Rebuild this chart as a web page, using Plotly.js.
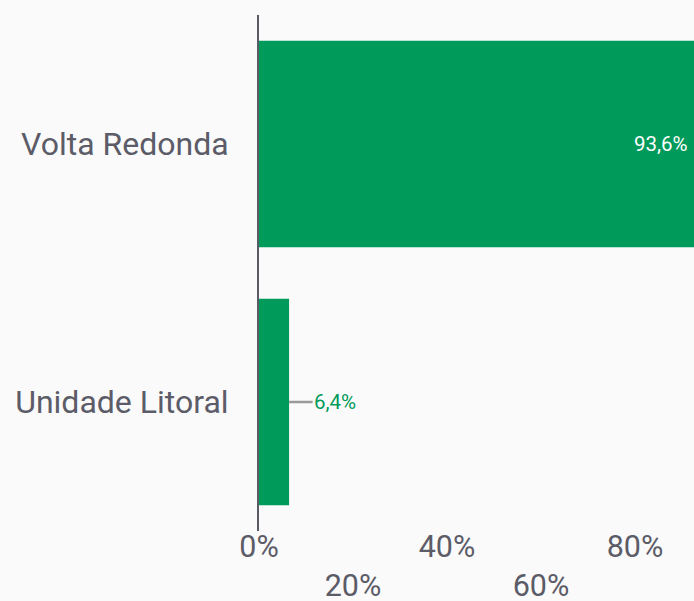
<!DOCTYPE html>
<html>
<head>
<meta charset="utf-8">
<script src="https://cdn.plot.ly/plotly-3.0.1.min.js"></script>
<style>
html,body{margin:0;padding:0;background:#fafafa;}
#chart{width:694px;height:601px;}
</style>
</head>
<body>
<div id="chart"></div>
<script>
const categories = ["Volta Redonda", "Unidade Litoral"];
const values = [93.6, 6.4];
const tickValues = [0, 20, 40, 60, 80];
const tickLabels = ["0%", "<br>20%", "40%", "<br>60%", "80%"];

const barColor = "#009a5b";
const textColor = "#5c5c68";

function fmt(v){ return v.toFixed(1).replace(".", ",") + "%"; }

const trace = {
  type: "bar",
  orientation: "h",
  x: values,
  y: categories,
  marker: {color: barColor},
  hoverinfo: "none"
};

const annotations = [];
values.forEach((v, i) => {
  if (v > 50) {
    annotations.push({
      xref: "paper", x: 1, xanchor: "right", xshift: -4,
      yref: "y", y: categories[i], yanchor: "middle",
      text: fmt(v), showarrow: false,
      font: {family: "Roboto", size: 20.5, color: "#ffffff"}
    });
  } else {
    annotations.push({
      xref: "x", x: v, yref: "y", y: categories[i],
      text: fmt(v), showarrow: true, arrowhead: 0, arrowwidth: 2.5,
      arrowcolor: "#999999", ax: 46, ay: 0, standoff: 0,
      font: {family: "Roboto", size: 20.5, color: barColor}
    });
  }
});

const layout = {
  width: 694, height: 601,
  margin: {l: 259, r: 0, t: 15, b: 70},
  paper_bgcolor: "#fafafa",
  plot_bgcolor: "#fafafa",
  bargap: 0.2,
  showlegend: false,
  font: {family: "Roboto", color: textColor},
  xaxis: {
    range: [0, 92.55],
    tickvals: tickValues,
    ticktext: tickLabels,
    showgrid: false, zeroline: false, showline: false,
    ticks: "", ticklabelstandoff: -6,
    tickfont: {size: 30.5, color: textColor},
    fixedrange: true
  },
  yaxis: {
    type: "category",
    autorange: "reversed",
    showgrid: false, zeroline: false,
    showline: true, linecolor: "#5a5a66", linewidth: 2,
    ticks: "", ticklabelstandoff: 22,
    tickfont: {size: 32, color: textColor},
    fixedrange: true
  },
  annotations: annotations
};

Plotly.newPlot("chart", [trace], layout, {displayModeBar: false, staticPlot: true});
</script>
</body>
</html>
